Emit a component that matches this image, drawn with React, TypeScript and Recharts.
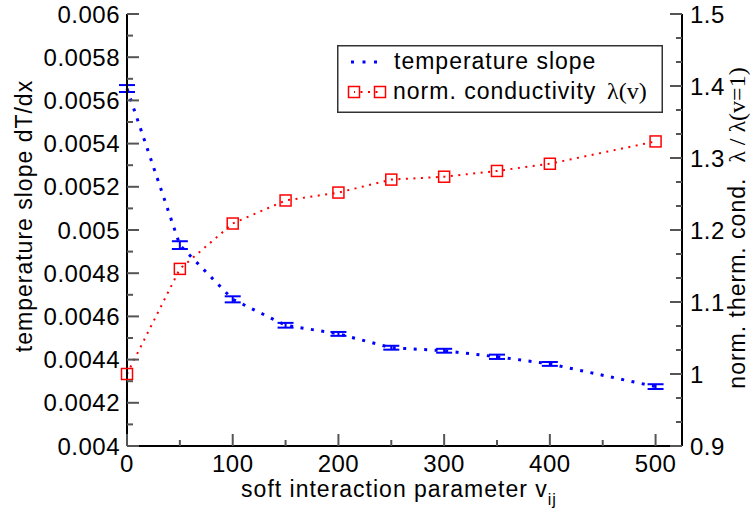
import { ComposedChart, Line, XAxis, YAxis, ErrorBar, Legend } from 'recharts'

const vij = [0, 50, 100, 150, 200, 250, 300, 350, 400, 500]
const tempSlope = [0.005655, 0.00493, 0.004679, 0.004559, 0.004519, 0.004455, 0.004441, 0.004413, 0.00438, 0.004275]
const tempSlopeErr = [0.000016, 0.000018, 0.000014, 0.000011, 0.000009, 0.000009, 0.000009, 0.00001, 0.000009, 0.000011]
const normCond = [1.0, 1.146, 1.209, 1.241, 1.252, 1.27, 1.274, 1.282, 1.292, 1.323]

const xMajor = [0, 100, 200, 300, 400, 500]
const xMinor = [50, 150, 250, 350, 450]
const leftMajor = [0.004, 0.0042, 0.0044, 0.0046, 0.0048, 0.005, 0.0052, 0.0054, 0.0056, 0.0058, 0.006]
const leftMinor = [0.0041, 0.0043, 0.0045, 0.0047, 0.0049, 0.0051, 0.0053, 0.0055, 0.0057, 0.0059]
const rightMajor = [0.9, 1, 1.1, 1.2, 1.3, 1.4, 1.5]
const rightMinor = rightMajor.slice(0, -1).flatMap(v => [v + 0.1 / 3, v + 0.2 / 3])

const data = vij.map((v, i) => ({ v, slope: tempSlope[i], err: tempSlopeErr[i], cond: normCond[i] }))

const SANS = '"Liberation Sans", Arial, Helvetica, sans-serif'
const SERIF = '"Liberation Serif", "DejaVu Serif", "Times New Roman", serif'
const BLUE = '#0000ff'
const RED = '#ff0000'
const TICK = '#555'

const fmt = (v: number) => String(Number(v.toFixed(4)))

function LeftTick({ x, y, payload }: any) {
    const major = leftMajor.includes(payload.value)
    return (
        <g>
            <line x1={x} x2={x + (major ? 12 : 6)} y1={y} y2={y} stroke={TICK} strokeWidth={2} />
            {major && (
                <text x={x - 7} y={y + 8.5} textAnchor="end" fontFamily={SANS} fontSize={24} letterSpacing={0.5} fill="#000">
                    {fmt(payload.value)}
                </text>
            )}
        </g>
    )
}

function RightTick({ x, y, payload }: any) {
    const major = rightMajor.some(m => Math.abs(m - payload.value) < 1e-9)
    return (
        <g>
            <line x1={x} x2={x - (major ? 12 : 6)} y1={y} y2={y} stroke={TICK} strokeWidth={2} />
            {major && (
                <text x={x + 8} y={y + 8.5} textAnchor="start" fontFamily={SANS} fontSize={24} letterSpacing={0.5} fill="#000">
                    {fmt(payload.value)}
                </text>
            )}
        </g>
    )
}

function BottomTick({ x, y, payload }: any) {
    const major = xMajor.includes(payload.value)
    return (
        <g>
            <line x1={x} x2={x} y1={y} y2={y - (major ? 12 : 6)} stroke={TICK} strokeWidth={2} />
            {major && (
                <text x={x} y={y + 26} textAnchor="middle" fontFamily={SANS} fontSize={24} letterSpacing={0.5} fill="#000">
                    {payload.value}
                </text>
            )}
        </g>
    )
}

function TopTick({ x, y, payload }: any) {
    const major = xMajor.includes(payload.value)
    return <line x1={x} x2={x} y1={y} y2={y + (major ? 12 : 6)} stroke={TICK} strokeWidth={2} />
}

const xLabel = () => (
    <text x={399} y={497} textAnchor="middle" fontFamily={SANS} fontSize={23} letterSpacing={1} fill="#000">
        soft interaction parameter v
        <tspan fontSize={16} dy={8}>ij</tspan>
    </text>
)

const leftLabel = () => (
    <text x={32} y={216} transform="rotate(-90 32 216)" textAnchor="middle" fontFamily={SANS} fontSize={23} letterSpacing={1} fill="#000">
        temperature slope dT/dx
    </text>
)

const rightLabel = () => (
    <text x={745} y={228} transform="rotate(-90 745 228)" textAnchor="middle" fontFamily={SANS} fontSize={23} letterSpacing={1} fill="#000">
        {'norm. therm. cond.\u00a0\u00a0'}
        <tspan fontFamily={SERIF} fontSize={24} letterSpacing={0}>λ / λ(v=1)</tspan>
    </text>
)

function LegendBox() {
    return (
        <svg width={326} height={68} style={{ display: 'block' }}>
            <rect x={0.75} y={0.75} width={324.5} height={66.5} fill="#fff" stroke="#333" strokeWidth={1.5} />
            <line x1={14} x2={41} y1={17} y2={17} stroke={BLUE} strokeWidth={3} strokeDasharray="3 8.5" />
            <text x={57} y={24} fontFamily={SANS} fontSize={23} letterSpacing={1} fill="#000">temperature slope</text>
            <line x1={17} x2={43} y1={47} y2={47} stroke={RED} strokeWidth={2} strokeDasharray="2 5.5" strokeDashoffset={1} />
            <rect x={11.5} y={41.5} width={11} height={11} fill="none" stroke={RED} strokeWidth={1.5} />
            <rect x={37.5} y={41.5} width={11} height={11} fill="none" stroke={RED} strokeWidth={1.5} />
            <text x={56} y={54} fontFamily={SANS} fontSize={23} letterSpacing={1} fill="#000">
                norm. conductivity
                <tspan x={270} fontFamily={SERIF} fontSize={24} letterSpacing={0}>λ(v)</tspan>
            </text>
        </svg>
    )
}

const Square = (props: any) => {
    const { cx, cy, index } = props
    return <rect key={`sq-${index}`} x={cx - 5.5} y={cy - 5.5} width={11} height={11} fill="none" stroke={RED} strokeWidth={1.5} />
}

export default function App() {
    return (
        <div style={{ position: 'absolute', left: 0, top: 0, background: '#fff' }}>
            <ComposedChart width={752} height={514} data={data} margin={{ top: 14, right: 0, bottom: 0, left: 0 }}
                style={{ fontFamily: SANS }}>
                <XAxis dataKey="v" type="number" domain={[0, 525]} ticks={[...xMajor, ...xMinor].sort((a, b) => a - b)}
                    interval={0} height={68} tickSize={0} tickMargin={0} tickLine={false} tick={BottomTick}
                    axisLine={{ stroke: '#000', strokeWidth: 2 }} label={xLabel} />
                <XAxis xAxisId="top" orientation="top" dataKey="v" type="number" domain={[0, 525]}
                    ticks={[...xMajor, ...xMinor].sort((a, b) => a - b)} interval={0} height={0} tickSize={0} tickMargin={0}
                    tickLine={false} tick={TopTick} axisLine={{ stroke: '#000', strokeWidth: 2 }} />
                <YAxis yAxisId="left" domain={[0.004, 0.006]} ticks={[...leftMajor, ...leftMinor].sort((a, b) => a - b)}
                    interval={0} width={127} tickSize={0} tickMargin={0} tickLine={false} tick={LeftTick}
                    axisLine={{ stroke: '#000', strokeWidth: 2 }} label={leftLabel} />
                <YAxis yAxisId="right" orientation="right" domain={[0.9, 1.5]}
                    ticks={[...rightMajor, ...rightMinor].sort((a, b) => a - b)} interval={0} width={70} tickSize={0}
                    tickMargin={0} tickLine={false} tick={RightTick} axisLine={{ stroke: '#000', strokeWidth: 2 }}
                    label={rightLabel} />
                <Legend verticalAlign="middle" align="center" layout="horizontal" content={() => <LegendBox />}
                    wrapperStyle={{ left: 337, top: 45, width: 326, height: 68 }} />
                <Line yAxisId="right" type="linear" dataKey="cond" name="norm. conductivity" stroke={RED} strokeWidth={2}
                    strokeDasharray="2 5.5" dot={Square} activeDot={false} isAnimationActive={false} />
                <Line yAxisId="left" type="linear" dataKey="slope" name="temperature slope" stroke={BLUE} strokeWidth={3}
                    strokeDasharray="3 7.5" dot={false} activeDot={false} isAnimationActive={false}>
                    <ErrorBar dataKey="err" width={8} stroke={BLUE} strokeWidth={2} direction="y" isAnimationActive={false} />
                </Line>
            </ComposedChart>
        </div>
    )
}
